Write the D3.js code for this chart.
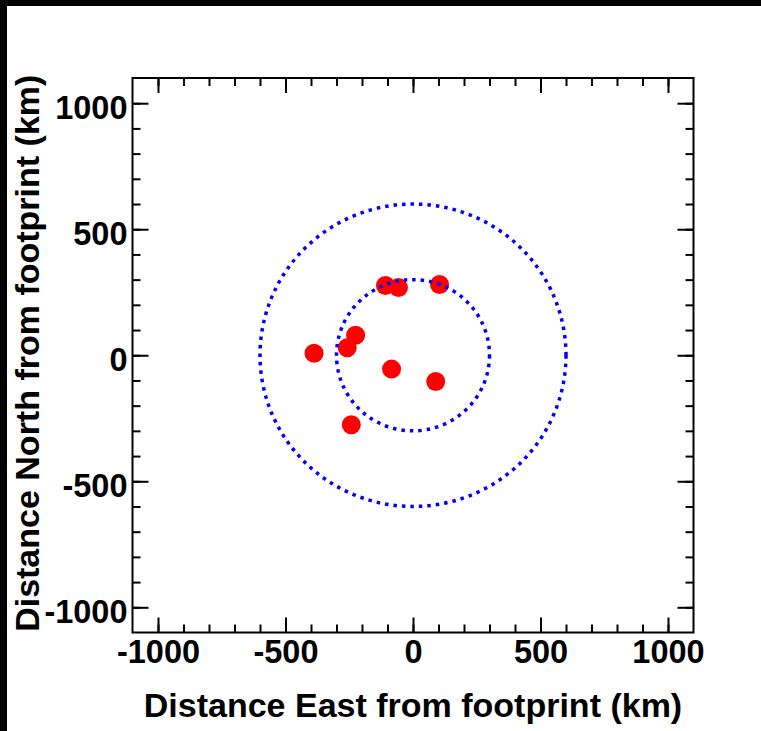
<!DOCTYPE html>
<html>
<head>
<meta charset="utf-8">
<script src="https://cdn.jsdelivr.net/npm/d3@7"></script>
<style>
  html, body { margin: 0; padding: 0; background: #000; }
  svg { display: block; }
  text { font-family: "Liberation Sans", Arial, sans-serif; font-weight: bold; fill: #000; }
</style>
</head>
<body>
<script>
// ---- data ----
const eventEast  = [-388, -225, -258, -84, 89, -242, -108, -57, 104];
const eventNorth = [8, 79, 30, -55, -104, -276, 277, 269, 281];
const ringRadii  = [300, 600];
const majorTicks = [-1000, -500, 0, 500, 1000];
const minorTicks = d3.range(-1000, 1001, 100);
const xTitle = "Distance East from footprint (km)";
const yTitle = "Distance North from footprint (km)";

const W = 761, H = 731;
const svg = d3.select("body").append("svg").attr("width", W).attr("height", H);
svg.append("rect").attr("width", W).attr("height", H).attr("fill", "#000");
svg.append("rect").attr("x", 7).attr("y", 6).attr("width", W - 7).attr("height", H - 6).attr("fill", "#fff");

const L = 132.5, R = 693.5, T = 78, B = 632.5;
const x = d3.scaleLinear().domain([-1100, 1100]).range([L, R]);
const y = d3.scaleLinear().domain([-1100, 1100]).range([B, T]);

const fs = 32.5, tfs = 34;
const fmt = d => String(d);
const axisStyle = g => {
  g.select(".domain").remove();
  g.selectAll("line").attr("stroke", "#000").attr("stroke-width", 2);
  g.selectAll("text").style("font-size", fs + "px").style("font-family", "'Liberation Sans', Arial, sans-serif").style("font-weight", "bold");
};

// bottom
svg.append("g").attr("transform", `translate(0,${B})`)
  .call(d3.axisBottom(x).tickValues(minorTicks).tickSize(-8).tickFormat(""))
  .call(axisStyle);
svg.append("g").attr("transform", `translate(0,${B})`)
  .call(d3.axisBottom(x).tickValues(majorTicks).tickSize(-15).tickPadding(7).tickFormat(fmt))
  .call(axisStyle)
  .call(g => g.selectAll("text").attr("dy", "0.71em"));
// top
svg.append("g").attr("transform", `translate(0,${T})`)
  .call(d3.axisTop(x).tickValues(minorTicks).tickSize(-8).tickFormat(""))
  .call(axisStyle);
svg.append("g").attr("transform", `translate(0,${T})`)
  .call(d3.axisTop(x).tickValues(majorTicks).tickSize(-15).tickFormat(""))
  .call(axisStyle);
// left
svg.append("g").attr("transform", `translate(${L},0)`)
  .call(d3.axisLeft(y).tickValues(minorTicks).tickSize(-8).tickFormat(""))
  .call(axisStyle);
svg.append("g").attr("transform", `translate(${L},0)`)
  .call(d3.axisLeft(y).tickValues(majorTicks).tickSize(-16).tickPadding(5).tickFormat(fmt))
  .call(axisStyle)
  .call(g => g.selectAll("text").attr("dy", "0.48em"));
// right
svg.append("g").attr("transform", `translate(${R},0)`)
  .call(d3.axisRight(y).tickValues(minorTicks).tickSize(-8).tickFormat(""))
  .call(axisStyle);
svg.append("g").attr("transform", `translate(${R},0)`)
  .call(d3.axisRight(y).tickValues(majorTicks).tickSize(-16).tickFormat(""))
  .call(axisStyle);

// frame
svg.append("rect").attr("x", L).attr("y", T).attr("width", R - L).attr("height", B - T)
  .attr("fill", "none").attr("stroke", "#000").attr("stroke-width", 2);

// events
const pts = eventEast.map((e, i) => ({ e, n: eventNorth[i] }));
svg.append("g").selectAll("circle").data(pts).join("circle")
  .attr("cx", d => x(d.e)).attr("cy", d => y(d.n)).attr("r", 9.5)
  .attr("fill", "#ff0000");

// rings
svg.append("g").selectAll("ellipse").data(ringRadii).join("ellipse")
  .attr("cx", x(0)).attr("cy", y(0))
  .attr("rx", r => x(r) - x(0)).attr("ry", r => y(0) - y(r))
  .attr("fill", "none").attr("stroke", "#0000ff").attr("stroke-width", 3.5)
  .attr("stroke-dasharray", "3.5 5");

// titles
svg.append("text").attr("x", (L + R) / 2).attr("y", 717)
  .attr("text-anchor", "middle").style("font-size", tfs + "px").text(xTitle);
svg.append("text").attr("transform", `translate(39,${(T + B) / 2 - 2}) rotate(-90)`)
  .attr("text-anchor", "middle").style("font-size", tfs + "px").text(yTitle);
</script>
</body>
</html>
